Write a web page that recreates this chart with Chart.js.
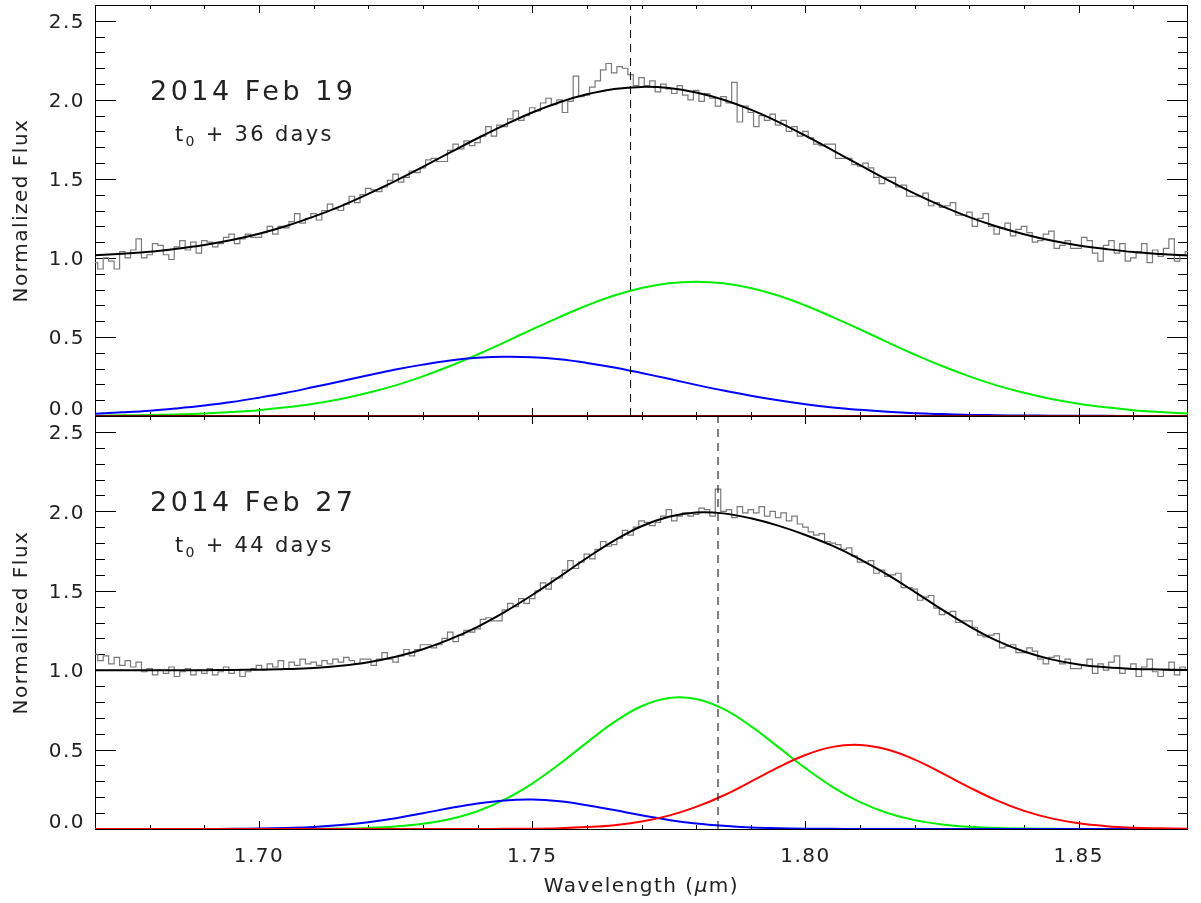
<!DOCTYPE html>
<html>
<head>
<meta charset="utf-8">
<script src="https://cdn.jsdelivr.net/npm/chart.js@4.4.1/dist/chart.umd.min.js"></script>
<style>
  html, body { margin: 0; padding: 0; background: #fff; }
  #wrap { position: relative; width: 1201px; height: 903px; }
  canvas { position: absolute; left: 0; top: 0; }
</style>
</head>
<body>
<div id="wrap">
  <canvas id="topChart" width="1201" height="903"></canvas>
  <canvas id="bottomChart" width="1201" height="903"></canvas>
</div>
<script>
// wavelength grid of the observed spectra (micron)
const specWave = [
  1.670,1.671,1.672,1.673,1.674,1.675,1.676,1.677,1.678,1.679,
  1.680,1.681,1.682,1.683,1.684,1.685,1.686,1.687,1.688,1.689,
  1.690,1.691,1.692,1.693,1.694,1.695,1.696,1.697,1.698,1.699,
  1.700,1.701,1.702,1.703,1.704,1.705,1.706,1.707,1.708,1.709,
  1.710,1.711,1.712,1.713,1.714,1.715,1.716,1.717,1.718,1.719,
  1.720,1.721,1.722,1.723,1.724,1.725,1.726,1.727,1.728,1.729,
  1.730,1.731,1.732,1.733,1.734,1.735,1.736,1.737,1.738,1.739,
  1.740,1.741,1.742,1.743,1.744,1.745,1.746,1.747,1.748,1.749,
  1.750,1.751,1.752,1.753,1.754,1.755,1.756,1.757,1.758,1.759,
  1.760,1.761,1.762,1.763,1.764,1.765,1.766,1.767,1.768,1.769,
  1.770,1.771,1.772,1.773,1.774,1.775,1.776,1.777,1.778,1.779,
  1.780,1.781,1.782,1.783,1.784,1.785,1.786,1.787,1.788,1.789,
  1.790,1.791,1.792,1.793,1.794,1.795,1.796,1.797,1.798,1.799,
  1.800,1.801,1.802,1.803,1.804,1.805,1.806,1.807,1.808,1.809,
  1.810,1.811,1.812,1.813,1.814,1.815,1.816,1.817,1.818,1.819,
  1.820,1.821,1.822,1.823,1.824,1.825,1.826,1.827,1.828,1.829,
  1.830,1.831,1.832,1.833,1.834,1.835,1.836,1.837,1.838,1.839,
  1.840,1.841,1.842,1.843,1.844,1.845,1.846,1.847,1.848,1.849,
  1.850,1.851,1.852,1.853,1.854,1.855,1.856,1.857,1.858,1.859,
  1.860,1.861,1.862,1.863,1.864,1.865,1.866,1.867,1.868,1.869,
  1.870
];

// normalized flux, 2014 Feb 19
const fluxFeb19 = [
  0.97,0.93,1.00,0.98,0.93,1.04,1.00,1.05,1.12,1.00,
  1.02,1.09,1.08,1.02,0.99,1.07,1.11,1.05,1.10,1.03,
  1.11,1.10,1.07,1.09,1.13,1.15,1.09,1.12,1.15,1.13,
  1.13,1.16,1.20,1.15,1.20,1.19,1.23,1.28,1.22,1.25,
  1.28,1.24,1.30,1.34,1.31,1.30,1.34,1.39,1.35,1.40,
  1.44,1.43,1.42,1.45,1.49,1.53,1.48,1.51,1.55,1.54,
  1.57,1.62,1.63,1.61,1.61,1.68,1.72,1.69,1.74,1.71,
  1.73,1.77,1.83,1.77,1.84,1.83,1.88,1.93,1.87,1.90,
  1.95,1.93,1.98,2.01,1.97,2.00,1.92,1.99,2.15,2.02,
  2.03,2.08,2.12,2.19,2.23,2.17,2.21,2.20,2.16,2.09,
  2.14,2.09,2.12,2.05,2.10,2.07,2.04,2.09,2.03,2.00,
  2.06,1.99,2.04,2.01,1.96,2.02,1.98,2.11,1.86,1.96,
  1.92,1.83,1.90,1.87,1.91,1.84,1.87,1.80,1.83,1.77,
  1.80,1.76,1.72,1.71,1.72,1.72,1.63,1.63,1.63,1.59,
  1.58,1.60,1.57,1.51,1.47,1.51,1.51,1.45,1.46,1.39,
  1.39,1.39,1.41,1.33,1.35,1.32,1.33,1.35,1.27,1.27,
  1.29,1.20,1.25,1.28,1.20,1.15,1.19,1.22,1.14,1.18,
  1.20,1.16,1.10,1.11,1.15,1.17,1.06,1.08,1.11,1.06,
  1.06,1.13,1.11,1.03,0.98,1.08,1.11,1.03,1.09,0.98,
  1.00,1.04,1.09,0.97,1.05,1.01,1.06,1.12,0.98,1.02,
  1.04
];

// normalized flux, 2014 Feb 27
const fluxFeb27 = [
  1.10,1.06,1.09,1.04,1.08,1.03,1.06,1.02,1.05,0.99,
  1.01,0.97,1.00,0.98,1.02,0.96,0.99,1.01,0.97,1.00,
  0.98,1.01,0.97,0.99,1.02,0.98,1.00,0.96,0.99,1.01,
  1.03,1.00,1.04,1.02,1.06,1.01,1.05,1.03,1.07,1.04,
  1.05,1.03,1.06,1.04,1.07,1.05,1.08,1.06,1.04,1.07,
  1.07,1.03,1.07,1.11,1.07,1.05,1.09,1.13,1.09,1.13,
  1.16,1.16,1.14,1.16,1.20,1.24,1.18,1.22,1.25,1.24,
  1.26,1.32,1.33,1.31,1.31,1.38,1.42,1.40,1.45,1.42,
  1.45,1.50,1.55,1.51,1.58,1.58,1.63,1.69,1.64,1.68,
  1.73,1.70,1.76,1.81,1.78,1.79,1.83,1.88,1.85,1.90,
  1.94,1.93,1.91,1.93,1.97,2.01,1.94,1.97,1.99,1.97,
  1.98,2.02,2.01,1.97,2.14,2.00,2.01,1.96,2.03,1.99,
  2.01,1.99,2.03,1.97,2.00,1.96,1.99,1.94,1.97,1.92,
  1.90,1.87,1.85,1.86,1.81,1.80,1.79,1.76,1.77,1.72,
  1.68,1.68,1.69,1.61,1.63,1.59,1.60,1.61,1.52,1.52,
  1.51,1.44,1.46,1.47,1.39,1.35,1.36,1.37,1.30,1.31,
  1.31,1.27,1.22,1.21,1.22,1.23,1.14,1.15,1.16,1.11,
  1.11,1.14,1.12,1.07,1.04,1.08,1.09,1.04,1.07,1.01,
  1.01,1.03,1.07,0.98,1.04,1.00,1.05,1.09,0.98,1.01,
  1.04,0.96,1.02,1.07,0.99,0.96,1.00,1.05,0.97,1.02,
  1.00
];

// wavelength grid of the fitted model curves
const modelWave = [
  1.670,1.675,1.680,1.685,1.690,1.695,1.700,1.705,1.710,1.715,
  1.720,1.725,1.730,1.735,1.740,1.745,1.750,1.755,1.760,1.765,
  1.770,1.775,1.780,1.785,1.790,1.795,1.800,1.805,1.810,1.815,
  1.820,1.825,1.830,1.835,1.840,1.845,1.850,1.855,1.860,1.865,1.870
];

const fitFeb19 = [
  1.017,1.027,1.039,1.058,1.082,1.113,1.153,1.202,1.261,1.328,
  1.405,1.488,1.576,1.667,1.757,1.842,1.920,1.985,2.035,2.069,
  2.082,2.075,2.047,2.001,1.938,1.861,1.773,1.680,1.587,1.494,
  1.407,1.328,1.258,1.199,1.150,1.110,1.079,1.056,1.037,1.025,1.016
];
const greenFeb19 = [
  0.002,0.004,0.006,0.010,0.016,0.025,0.037,0.055,0.078,0.108,
  0.147,0.194,0.251,0.316,0.389,0.467,0.548,0.626,0.699,0.762,
  0.810,0.840,0.850,0.840,0.810,0.762,0.699,0.626,0.548,0.467,
  0.389,0.316,0.251,0.194,0.147,0.108,0.078,0.055,0.037,0.025,0.016
];
const blueFeb19 = [
  0.015,0.023,0.033,0.048,0.066,0.088,0.116,0.147,0.183,0.220,
  0.258,0.294,0.325,0.351,0.368,0.375,0.372,0.359,0.336,0.307,
  0.272,0.235,0.197,0.161,0.128,0.099,0.074,0.054,0.039,0.027,
  0.018,0.012,0.007,0.005,0.003,0.002,0.001,0.001,0,0,0
];
const redFeb19 = [
  0,0,0,0,0,0,0,0,0,0,0,0,0,0,0,0,0,0,0,0,
  0,0,0,0,0,0,0,0,0,0,0,0,0,0,0,0,0,0,0,0,0
];

const fitFeb27 = [
  1.000,1.000,1.000,1.000,1.000,1.001,1.003,1.007,1.014,1.028,
  1.050,1.084,1.132,1.195,1.273,1.367,1.473,1.588,1.706,1.816,
  1.906,1.966,1.993,1.987,1.956,1.910,1.851,1.782,1.698,1.601,
  1.493,1.381,1.276,1.186,1.117,1.068,1.036,1.018,1.008,1.004,1.001
];
const greenFeb27 = [
  0,0,0,0,0,0,0,0,0.001,0.003,
  0.007,0.016,0.033,0.063,0.112,0.186,0.286,0.409,0.544,0.673,
  0.773,0.825,0.819,0.756,0.648,0.517,0.383,0.264,0.169,0.101,
  0.056,0.029,0.014,0.006,0.003,0.001,0,0,0,0,0
];
const blueFeb27 = [
  0,0,0,0,0,0.001,0.003,0.007,0.013,0.025,
  0.043,0.068,0.099,0.132,0.161,0.180,0.185,0.174,0.150,0.119,
  0.086,0.057,0.035,0.020,0.010,0.005,0.002,0.001,0,0,
  0,0,0,0,0,0,0,0,0,0,0
];
const redFeb27 = [
  0,0,0,0,0,0,0,0,0,0,
  0,0,0,0,0,0.001,0.002,0.005,0.012,0.024,
  0.047,0.084,0.139,0.211,0.298,0.388,0.466,0.517,0.529,0.500,
  0.437,0.352,0.262,0.180,0.114,0.067,0.036,0.018,0.008,0.004,0.001
];

// marked line centres (dashed)
const peakFeb19 = 1.768;
const peakFeb27 = 1.784;

const xTicks = [1.70, 1.75, 1.80, 1.85];
const yTicks = [0, 0.5, 1.0, 1.5, 2.0, 2.5];

const FONT = '"DejaVu Sans", sans-serif';
const TEXT = '#222';

function pts(xs, ys) {
  return xs.map((x, i) => ({ x: x, y: ys[i] }));
}

// box, inward ticks and the text labels drawn in IDL style
const framePlugin = {
  id: 'frame',
  beforeDraw(chart) {
    chart.ctx.letterSpacing = '1.5px';
  },
  beforeDatasetsDraw(chart, args, opts) {
    const { ctx, chartArea: a, scales: { x, y } } = chart;
    ctx.save();
    ctx.strokeStyle = '#000';
    ctx.lineWidth = 1;
    ctx.strokeRect(a.left + 0.5, a.top + 0.5, a.right - a.left - 1, a.bottom - a.top);
    ctx.beginPath();
    for (let i = 168; i <= 186; i++) {
      const px = Math.round(x.getPixelForValue(i / 100)) + 0.5;
      const len = i % 5 === 0 ? 8 : 4;
      ctx.moveTo(px, a.bottom); ctx.lineTo(px, a.bottom - len);
      ctx.moveTo(px, a.top); ctx.lineTo(px, a.top + len);
    }
    for (let i = 1; i <= 25; i++) {
      const py = Math.round(y.getPixelForValue(i / 10)) + 0.5;
      const len = i % 5 === 0 ? 21 : 10;
      ctx.moveTo(a.left, py); ctx.lineTo(a.left + len, py);
      ctx.moveTo(a.right, py); ctx.lineTo(a.right - len, py);
    }
    ctx.stroke();
    ctx.restore();
  },
  afterDatasetsDraw(chart, args, opts) {
    const { ctx, chartArea: a, scales: { x, y } } = chart;
    ctx.save();
    ctx.fillStyle = TEXT;

    // lowest y label sits a little higher, as in the original
    ctx.letterSpacing = '1.5px';
    ctx.font = '20px ' + FONT;
    ctx.textAlign = 'right';
    ctx.textBaseline = 'middle';
    ctx.fillText('0.0', a.left - 10, y.getPixelForValue(0) - 6);

    // panel date and epoch
    ctx.textAlign = 'left';
    ctx.textBaseline = 'alphabetic';
    ctx.letterSpacing = '3.5px';
    ctx.font = '27px ' + FONT;
    ctx.fillText(opts.date, a.left + 55, a.top + 95);

    ctx.letterSpacing = '2.3px';
    let tx = a.left + 80;
    const ty = a.top + 136;
    ctx.font = '21px ' + FONT;
    ctx.fillText('t', tx, ty);
    tx += ctx.measureText('t').width;
    ctx.font = '14px ' + FONT;
    ctx.fillText('0', tx, ty + 5);
    tx += ctx.measureText('0').width;
    ctx.font = '21px ' + FONT;
    ctx.fillText(' + ' + opts.epoch + ' days', tx, ty);

    // y title
    ctx.letterSpacing = '1.5px';
    ctx.save();
    ctx.translate(22, (a.top + a.bottom) / 2);
    ctx.rotate(-Math.PI / 2);
    ctx.textAlign = 'center';
    ctx.textBaseline = 'middle';
    ctx.font = '20px ' + FONT;
    ctx.fillText('Normalized Flux', 0, 0);
    ctx.restore();

    // x title with italic mu
    if (opts.xTitle) {
      const parts = [['Wavelength (', '20px ' + FONT], ['\u03bc', 'italic 20px ' + FONT], ['m)', '20px ' + FONT]];
      let w = 0;
      parts.forEach(p => { ctx.font = p[1]; w += ctx.measureText(p[0]).width; });
      let sx = (a.left + a.right) / 2 - w / 2;
      ctx.textAlign = 'left';
      ctx.textBaseline = 'alphabetic';
      parts.forEach(p => {
        ctx.font = p[1];
        ctx.fillText(p[0], sx, 892);
        sx += ctx.measureText(p[0]).width;
      });
    }
    ctx.restore();
  }
};

function makePanel(id, p) {
  const curve = (data, color, order) => ({
    data: pts(modelWave, data), borderColor: color, borderWidth: 2,
    pointRadius: 0, fill: false, order: order, tension: 0.4
  });

  return new Chart(document.getElementById(id), {
    type: 'line',
    data: {
      datasets: [
        {
          data: pts(specWave, p.flux), borderColor: '#7a7a7a', borderWidth: 1.2,
          pointRadius: 0, fill: false, stepped: 'middle', order: 6
        },
        curve(p.fit, '#000000', 4),
        curve(p.green, '#00ee00', 3),
        curve(p.blue, '#0000ff', 2),
        curve(p.red, p.redColor, 1),
        {
          data: [{ x: p.peak, y: 0 }, { x: p.peak, y: 2.6 }],
          borderColor: '#000', borderWidth: 1, borderDash: [8, 6],
          pointRadius: 0, fill: false, order: 0
        }
      ]
    },
    options: {
      responsive: false,
      animation: false,
      events: [],
      layout: { padding: { left: 0, right: 13, top: p.padTop, bottom: p.padBottom } },
      plugins: {
        legend: { display: false },
        tooltip: { enabled: false },
        frame: { date: p.date, epoch: p.epoch, xTitle: p.showX }
      },
      scales: {
        x: {
          type: 'linear', min: 1.67, max: 1.87,
          display: p.showX,
          afterBuildTicks: s => { s.ticks = xTicks.map(v => ({ value: v })); },
          afterFit: s => { s.height = p.showX ? 74 : 0; s.paddingLeft = 0; s.paddingRight = 0; },
          grid: { display: false, drawTicks: false, tickLength: 0 },
          border: { display: false },
          ticks: {
            padding: 16, color: TEXT, autoSkip: false, maxRotation: 0,
            font: { family: FONT, size: 20 },
            callback: v => v.toFixed(2)
          }
        },
        y: {
          type: 'linear', min: 0, max: 2.6,
          afterBuildTicks: s => { s.ticks = yTicks.map(v => ({ value: v })); },
          afterFit: s => { s.width = 95; s.paddingTop = 0; s.paddingBottom = 0; },
          grid: { display: false, drawTicks: false, tickLength: 0 },
          border: { display: false },
          ticks: {
            padding: 10, color: TEXT, autoSkip: false, labelOffset: 2,
            font: { family: FONT, size: 20 },
            callback: v => (v === 0 ? '' : v.toFixed(1))
          }
        }
      }
    },
    plugins: [framePlugin]
  });
}

makePanel('topChart', {
  flux: fluxFeb19, fit: fitFeb19, green: greenFeb19, blue: blueFeb19, red: redFeb19,
  redColor: '#7a0000', peak: peakFeb19, date: '2014 Feb 19', epoch: '36',
  showX: false, padTop: 5, padBottom: 487
});

makePanel('bottomChart', {
  flux: fluxFeb27, fit: fitFeb27, green: greenFeb27, blue: blueFeb27, red: redFeb27,
  redColor: '#ff0000', peak: peakFeb27, date: '2014 Feb 27', epoch: '44',
  showX: true, padTop: 416, padBottom: 0
});
</script>
</body>
</html>
